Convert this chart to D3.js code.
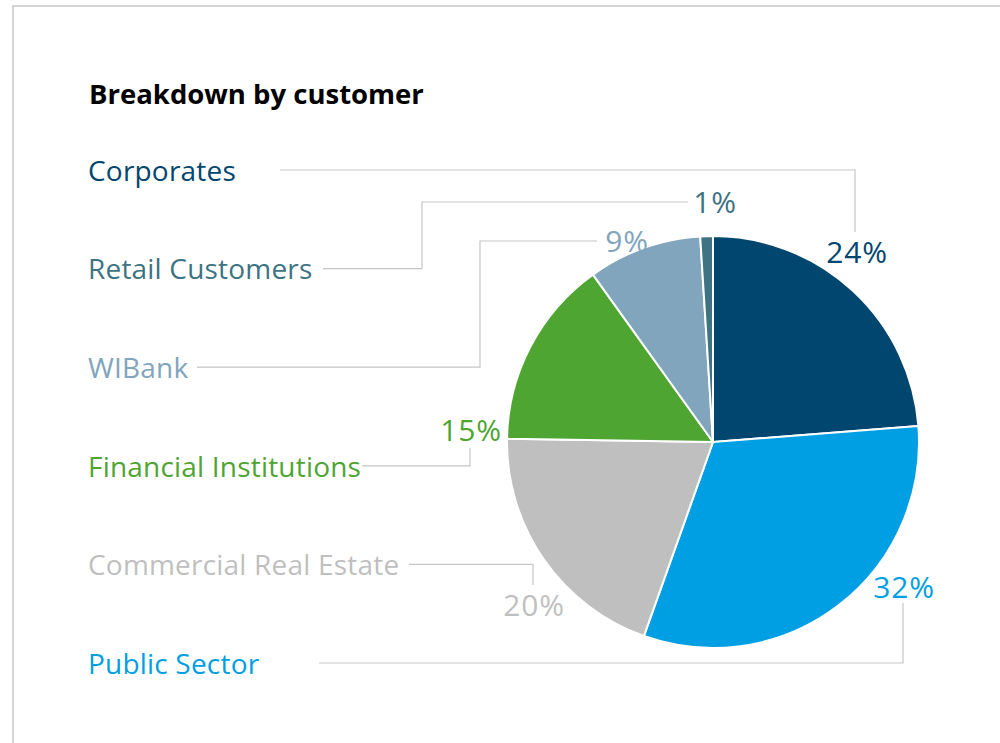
<!DOCTYPE html>
<html>
<head>
<meta charset="utf-8">
<script src="https://cdn.jsdelivr.net/npm/d3@7"></script>
<style>
  html, body { margin: 0; padding: 0; background: #fff; }
  svg { display: block; }
  text { font-family: "Open Sans", "Noto Sans", sans-serif; }
</style>
</head>
<body>
<svg id="chart" width="1000" height="743"></svg>
<script>
// Share of the portfolio by customer group, in percent (clockwise from 12 o'clock)
const categories = ["Corporates", "Public Sector", "Commercial Real Estate", "Financial Institutions", "WIBank", "Retail Customers"];
const shares     = [24, 32, 20, 15, 9, 1];
const colors     = ["#00466e", "#009fe3", "#bfbfbf", "#4ea531", "#80a5bc", "#3d7383"];

// Order in which the category names are listed on the left
const legendOrder = ["Corporates", "Retail Customers", "WIBank", "Financial Institutions", "Commercial Real Estate", "Public Sector"];

const title = "Breakdown by customer";

const svg = d3.select("#chart");
const W = 1000, H = 743;

// Light frame around the panel
svg.append("path")
  .attr("d", `M13,${H} V6 H${W}`)
  .attr("fill", "none")
  .attr("stroke", "#d4d4d4")
  .attr("stroke-width", 2);

svg.append("text")
  .attr("x", 89).attr("y", 104)
  .attr("font-size", 27.5)
  .attr("font-weight", 700)
  .attr("fill", "#000")
  .text(title);

const cx = 713, cy = 442, R = 206;

const data = categories.map((c, i) => ({ name: c, value: shares[i], color: colors[i] }));
const pie = d3.pie().sort(null).value(d => d.value);
const arc = d3.arc().innerRadius(0).outerRadius(R);
const arcs = pie(data);

const g = svg.append("g").attr("transform", `translate(${cx},${cy})`);
g.selectAll("path.slice")
  .data(arcs)
  .join("path")
  .attr("class", "slice")
  .attr("d", arc)
  .attr("fill", d => d.data.color)
  .attr("stroke", "#fff")
  .attr("stroke-width", 2)
  .attr("stroke-linejoin", "round");

// Category names down the left side
const rowY = d3.scalePoint().domain(legendOrder).range([171, 664]);
const colorOf = Object.fromEntries(data.map(d => [d.name, d.color]));
const shareOf = Object.fromEntries(data.map(d => [d.name, d.value]));

svg.selectAll("text.cat")
  .data(legendOrder)
  .join("text")
  .attr("class", "cat")
  .attr("x", 88)
  .attr("y", d => rowY(d))
  .attr("dy", "0.35em")
  .attr("font-size", 28)
  .attr("letter-spacing", 0.2)
  .attr("fill", d => colorOf[d])
  .text(d => d);

// Leader routing and percent-label anchor for each group
const leaders = {
  "Corporates":             { from: 280, elbowX: 855, toY: 232, lx: 857, ly: 252 },
  "Retail Customers":       { from: 323, elbowX: 422, midY: 202, toX: 688, lx: 715, ly: 202 },
  "WIBank":                 { from: 197, elbowX: 480, midY: 241, toX: 597, lx: 627, ly: 241 },
  "Financial Institutions": { from: 362, elbowX: 470, toY: 448, lx: 471, ly: 430 },
  "Commercial Real Estate": { from: 409, elbowX: 533, toY: 585, lx: 534, ly: 605 },
  "Public Sector":          { from: 319, elbowX: 903, toY: 603, lx: 904, ly: 587 }
};

const line = d3.line();
svg.selectAll("path.leader")
  .data(legendOrder)
  .join("path")
  .attr("class", "leader")
  .attr("fill", "none")
  .attr("stroke", "#c6c6c6")
  .attr("stroke-width", 1.2)
  .attr("d", d => {
    const L = leaders[d], y0 = rowY(d) - 1;
    const pts = [[L.from, y0], [L.elbowX, y0]];
    if (L.midY !== undefined) { pts.push([L.elbowX, L.midY], [L.toX, L.midY]); }
    else { pts.push([L.elbowX, L.toY]); }
    return line(pts);
  });

svg.selectAll("text.pct")
  .data(legendOrder)
  .join("text")
  .attr("class", "pct")
  .attr("x", d => leaders[d].lx)
  .attr("y", d => leaders[d].ly)
  .attr("dy", "0.35em")
  .attr("text-anchor", "middle")
  .attr("font-size", 30)
  .attr("letter-spacing", 0.8)
  .attr("fill", d => colorOf[d])
  .text(d => shareOf[d] + "%");
</script>
</body>
</html>
